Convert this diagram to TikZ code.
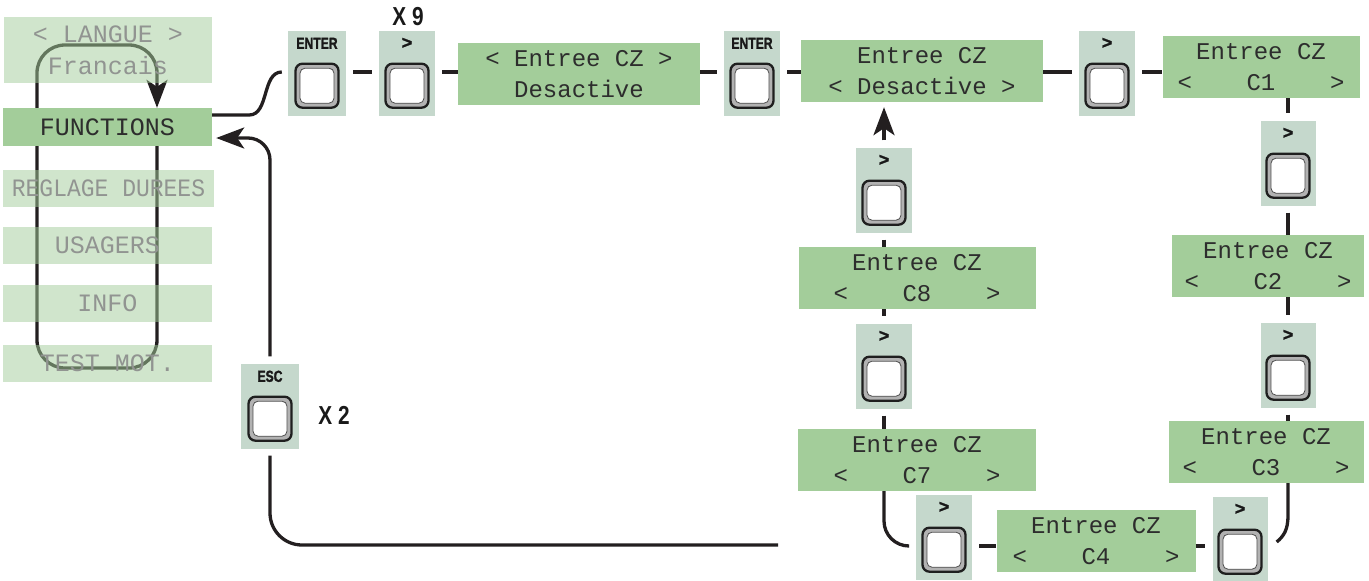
\documentclass[tikz,border=0pt]{standalone}
\usepackage{fontspec}
\usetikzlibrary{arrows.meta,calc}
\newfontfamily\lcdfont{Liberation Mono}
\newfontfamily\keyfont[FakeStretch=0.76,FakeBold=1.5]{Liberation Sans}
\newfontfamily\gtfont[FakeBold=1.5]{Liberation Sans}
\newfontfamily\xfont[FakeStretch=0.8]{Liberation Sans}
\definecolor{lcdgreen}{RGB}{163,205,154}
\definecolor{keybgc}{RGB}{197,216,204}
\definecolor{keygray}{RGB}{178,178,178}
\definecolor{lcdtext}{RGB}{45,45,45}
\definecolor{menugray}{RGB}{145,148,145}
\definecolor{linec}{RGB}{35,31,32}
\newcommand\crow[1]{\makebox[167pt]{<\hfill#1\hfill>}}
\newcommand\gt{{\gtfont\bfseries\fontsize{18}{18}\selectfont >}}
\newcommand\keybtn[4]{%
  \node[keybg, minimum width=#4] (#1) at (#2) {};
  \node[keylabel] at ([yshift=-13pt]#1.north) {#3};
  \node[keyouter] (#1k) at ([yshift=30pt]#1.south) {};
  \node[keyinner] at (#1k.center) {};
}
\tikzset{
  keybg/.style={fill=keybgc, minimum height=85pt, inner sep=0pt, draw=none},
  keylabel/.style={font=\keyfont\bfseries\fontsize{16}{16}\selectfont, text=black!90, inner sep=0pt},
  keyouter/.style={fill=keygray, draw=black!88, line width=2.3pt, rounded corners=7pt, minimum width=43pt, minimum height=44pt, inner sep=0pt},
  keyinner/.style={fill=white, draw=black!70, line width=0.8pt, rounded corners=5pt, minimum width=34pt, minimum height=35pt, inner sep=0pt},
  lcd/.style={fill=lcdgreen, inner sep=0pt, minimum height=62pt, align=center, text=lcdtext, font=\lcdfont\fontsize{24}{31}\selectfont},
  menuon/.style={fill=lcdgreen, inner sep=0pt, align=center, text=lcdtext, font=\lcdfont\fontsize{25}{32}\selectfont},
  menuoff/.style={fill=lcdgreen, fill opacity=0.5, text opacity=1, inner sep=0pt, align=center, text=menugray, font=\lcdfont\fontsize{25}{32}\selectfont},
  conn/.style={draw=linec, line width=3.3pt},
  arr/.style={-{Stealth[length=28pt,width=21pt,inset=7pt]}},
  xlab/.style={font=\xfont\bfseries\fontsize{26}{26}\selectfont, inner sep=0pt, text=black!90}
}
\begin{document}
\begin{tikzpicture}[x=1pt,y=-1pt]
\useasboundingbox (0,0) rectangle (1369,581);
\fill[white] (0,0) rectangle (1369,581);

% menu loop
\coordinate (loopTL) at (37,45);
\coordinate (loopBR) at (157,368);
\node[menuon, minimum width=209pt, minimum height=38pt] (func) at (107.5,127) {FUNCTIONS};
\draw[conn, rounded corners=28pt, arr] (func.south -| loopBR) -- (loopBR) -| (loopTL) -| (func.north -| loopBR);
\node[menuon, minimum width=209pt, minimum height=38pt] (func) at (107.5,127) {FUNCTIONS};

% menu items
\node[menuoff, minimum width=208pt, minimum height=66pt] (langue) at (108,50) {< LANGUE >\\Francais};
\node[menuoff, minimum width=211pt, minimum height=37pt] (reglage) at (108.5,188.5) {\scalebox{0.92}[1]{REGLAGE DUREES}};
\node[menuoff, minimum width=209pt, minimum height=37pt] (usagers) at (107.5,245.5) {USAGERS};
\node[menuoff, minimum width=209pt, minimum height=37pt] (info) at (107.5,303.5) {INFO};
\node[menuoff, minimum width=209pt, minimum height=37pt] (testmot) at (107.5,363.5) {TEST MOT.};

% displays
\node[lcd, minimum width=242pt] (lcd1) at (579,74) {< Entree CZ >\\Desactive};
\node[lcd, minimum width=242pt] (lcd2) at (922,71) {Entree CZ\\< Desactive >};
\node[lcd, minimum width=197pt] (c1) at (1261,67) {Entree CZ\\\crow{C1}};
\node[lcd, minimum width=192pt] (c2) at (1268,266) {Entree CZ\\\crow{C2}};
\node[lcd, minimum width=195pt] (c3) at (1266,452) {Entree CZ\\\crow{C3}};
\node[lcd, minimum width=199pt] (c4) at (1096,541) {Entree CZ\\\crow{C4}};
\node[lcd, minimum width=238pt] (c7) at (917,460) {Entree CZ\\\crow{C7}};
\node[lcd, minimum width=237pt] (c8) at (917,278) {Entree CZ\\\crow{C8}};

% keys
\keybtn{e1}{317,73}{ENTER}{58pt}
\keybtn{r1}{407,73}{\gt}{56pt}
\keybtn{e2}{752,73}{ENTER}{56pt}
\keybtn{r2}{1107,73}{\gt}{56pt}
\keybtn{r3}{1288,163}{\gt}{55pt}
\keybtn{r4}{1288,365}{\gt}{55pt}
\keybtn{r5}{1240,539}{\gt}{55pt}
\keybtn{r6}{944,537}{\gt}{56pt}
\keybtn{r7}{884,366}{\gt}{56pt}
\keybtn{r8}{884,190}{\gt}{56pt}
\keybtn{esc}{270,406}{ESC}{58pt}

\node[xlab] (x9) at (408,17) {X 9};
\node[xlab] (x2) at (334,415) {X 2};

% connectors
\coordinate (rowb) at ($(r6.center)+(0,9)$);
\coordinate (rowa) at ($(lcd2.center)+(0,1)$);
\draw[conn] ([yshift=12pt]func.east) -- ++(37,0) .. controls +(20,0) and +(-20,0) .. ($(e1.west |- rowa)+(-6,0)$);
\draw[conn, shorten <=7pt, shorten >=7pt] (e1.east |- rowa) -- (r1.west |- rowa);
\draw[conn, shorten <=7pt] (r1.east |- rowa) -- (lcd1.west |- rowa);
\draw[conn, shorten >=7pt] (lcd1.east |- rowa) -- (e2.west |- rowa);
\draw[conn, shorten <=7pt] (e2.east |- rowa) -- (lcd2.west |- rowa);
\draw[conn, shorten >=7pt] (lcd2.east |- rowa) -- (r2.west |- rowa);
\draw[conn, shorten <=7pt] (r2.east |- rowa) -- (c1.west |- rowa);
\draw[conn, shorten >=7pt] (r3.north |- c1.south) -- (r3.north);
\draw[conn, shorten <=7pt] (r3.south) -- (r3.south |- c2.north);
\draw[conn, shorten >=7pt] (r4.north |- c2.south) -- (r4.north);
\draw[conn, shorten <=7pt] (r4.south) -- (r4.south |- c3.north);
\draw[conn] (c3.south -| r4.south) -- ++(0,32) .. controls +(0,15) and +(7,-6) .. ($(r5.east)+(9,3)$);
\draw[conn, shorten >=7pt] (rowb -| c4.east) -- (rowb -| r5.west);
\draw[conn, shorten <=7pt] (rowb -| r6.east) -- (rowb -| c4.west);
\draw[conn, rounded corners=25pt, shorten >=7pt] (r7.south |- c7.south) |- (rowb -| r6.west);
\draw[conn, shorten <=7pt] (r7.south) -- (r7.south |- c7.north);
\draw[conn, shorten >=7pt] (r7.north |- c8.south) -- (r7.north);
\draw[conn, shorten <=7pt] (r8.south) -- (r8.south |- c8.north);
\draw[conn, arr, shorten <=7pt, shorten >=5pt] (r8.north) -- (r8.north |- lcd2.south);

% return
\coordinate (retstart) at (778,545);
\draw[conn, rounded corners=32pt, shorten >=7pt] (retstart) -| (esc.south);
\draw[conn, arr, rounded corners=22pt, shorten <=7pt] (esc.north) |- ($(func.east)+(4,11)$);
\end{tikzpicture}
\end{document}
